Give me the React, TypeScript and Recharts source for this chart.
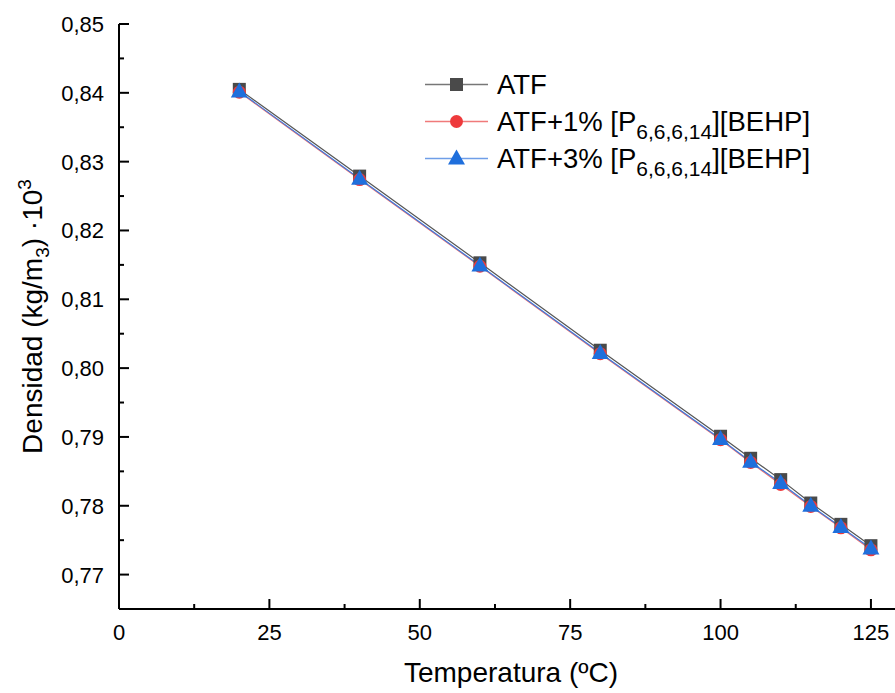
import { LineChart, Line, XAxis, YAxis, Label } from 'recharts';

const temps = [20, 40, 60, 80, 100, 105, 110, 115, 120, 125];
const atf = [0.8405, 0.8279, 0.8153, 0.8026, 0.7901, 0.7869, 0.7838, 0.7804, 0.7773, 0.7742];
const atf1 = [0.8401, 0.8274, 0.8148, 0.8021, 0.7896, 0.7863, 0.7831, 0.7799, 0.7768, 0.7736];
const atf3 = [0.8402, 0.8275, 0.8149, 0.8022, 0.7897, 0.7864, 0.7833, 0.78, 0.7769, 0.7738];

const xTicks = [0, 12.5, 25, 37.5, 50, 62.5, 75, 87.5, 100, 112.5, 125];
const yTicks = [0.77, 0.775, 0.78, 0.785, 0.79, 0.795, 0.8, 0.805, 0.81, 0.815, 0.82, 0.825, 0.83, 0.835, 0.84, 0.845, 0.85];

const data = temps.map((t, i) => ({ t, atf: atf[i], atf1: atf1[i], atf3: atf3[i] }));

const FONT = '"Liberation Sans", Arial, sans-serif';
const GRAY = '#4a4a4a';
const RED = '#ee3a3c';
const BLUE = '#1f6fdc';

const XTick = (props: any) => {
  const { x, y, payload } = props;
  const major = payload.value % 25 === 0;
  return (
    <g>
      <line x1={x} x2={x} y1={y} y2={y - (major ? 10 : 5)} stroke="#000" strokeWidth={2} />
      {major && (
        <text x={x} y={y + 31} textAnchor="middle" fontSize={22} fontFamily={FONT} fill="#000">
          {payload.value}
        </text>
      )}
    </g>
  );
};

const YTick = (props: any) => {
  const { x, y, payload } = props;
  const major = Math.round(payload.value * 1000) % 10 === 0;
  return (
    <g>
      <line x1={x} x2={x + (major ? 10 : 5)} y1={y} y2={y} stroke="#000" strokeWidth={2} />
      {major && (
        <text x={x - 15} y={y + 8} textAnchor="end" fontSize={22} fontFamily={FONT} fill="#000">
          {payload.value.toFixed(2).replace('.', ',')}
        </text>
      )}
    </g>
  );
};

const Square = (props: any) => {
  const { cx, cy, index } = props;
  return <rect key={index} x={cx - 6.5} y={cy - 6.5} width={13} height={13} fill={GRAY} />;
};

const Circle = (props: any) => {
  const { cx, cy, index } = props;
  return <circle key={index} cx={cx} cy={cy} r={6.5} fill={RED} />;
};

const Triangle = (props: any) => {
  const { cx, cy, index } = props;
  return (
    <path key={index} d={`M${cx},${cy - 9} L${cx + 8.5},${cy + 6} L${cx - 8.5},${cy + 6} Z`} fill={BLUE} />
  );
};

const Sub = ({ children }: { children: string }) => (
  <span style={{ fontSize: 21, position: 'relative', top: 8 }}>{children}</span>
);

const legendRows = [
  { label: <>ATF</>, line: '#777', marker: 'square' },
  { label: <>ATF+1% [P<Sub>6,6,6,14</Sub>][BEHP]</>, line: '#f07a7a', marker: 'circle' },
  { label: <>ATF+3% [P<Sub>6,6,6,14</Sub>][BEHP]</>, line: '#6f9ee8', marker: 'triangle' },
];

const ChartLegend = () => (
  <div style={{ position: 'absolute', left: 422, top: 66, fontFamily: FONT, fontSize: 27.5, color: '#000' }}>
    {legendRows.map((r, i) => (
      <div key={i} style={{ display: 'flex', alignItems: 'center', height: 37, whiteSpace: 'nowrap' }}>
        <svg width={66} height={37} style={{ marginRight: 9 }}>
          <line x1={3} x2={66} y1={18.5} y2={18.5} stroke={r.line} strokeWidth={1.5} />
          {r.marker === 'square' && <rect x={28} y={12} width={13} height={13} fill={GRAY} />}
          {r.marker === 'circle' && <circle cx={34.5} cy={18.5} r={6.5} fill={RED} />}
          {r.marker === 'triangle' && <path d="M34.5,9.5 L43,24.5 L26,24.5 Z" fill={BLUE} />}
        </svg>
        <span>{r.label}</span>
      </div>
    ))}
  </div>
);

const YTitle = (props: any) => {
  const { viewBox } = props;
  const cy = viewBox.y + viewBox.height / 2;
  return (
    <text
      x={42}
      y={cy}
      transform={`rotate(-90, 42, ${cy})`}
      textAnchor="middle"
      fontSize={28}
      fontFamily={FONT}
      fill="#000"
    >
      Densidad (kg/m
      <tspan fontSize={19} dy={7}>3</tspan>
      <tspan dy={-7}>) ·10</tspan>
      <tspan fontSize={19} dy={-11}>3</tspan>
    </text>
  );
};

const XTitle = (props: any) => {
  const { viewBox } = props;
  return (
    <text
      x={viewBox.x + viewBox.width / 2 + 4}
      y={682}
      textAnchor="middle"
      fontSize={28}
      fontFamily={FONT}
      fill="#000"
    >
      Temperatura (ºC)
    </text>
  );
};

export default function App() {
  return (
    <div style={{ position: 'absolute', left: 0, top: 0, width: 895, height: 693, background: '#fff' }}>
      <LineChart width={895} height={693} data={data} margin={{ top: 24, right: 0, bottom: 0, left: 0 }}>
        <XAxis
          dataKey="t"
          type="number"
          domain={[0, 129]}
          ticks={xTicks}
          interval={0}
          tickSize={0}
          tickMargin={0}
          tick={XTick}
          height={84}
          axisLine={{ stroke: '#000', strokeWidth: 2 }}
        >
          <Label content={XTitle} />
        </XAxis>
        <YAxis
          type="number"
          domain={[0.765, 0.85]}
          ticks={yTicks}
          interval={0}
          tickSize={0}
          tickMargin={0}
          tick={YTick}
          width={119}
          axisLine={{ stroke: '#000', strokeWidth: 2 }}
        >
          <Label content={YTitle} />
        </YAxis>
        <Line dataKey="atf" stroke="#555" strokeWidth={1.2} dot={Square} isAnimationActive={false} />
        <Line dataKey="atf1" stroke="#f07070" strokeWidth={1.2} dot={Circle} isAnimationActive={false} />
        <Line dataKey="atf3" stroke="#3b78dc" strokeWidth={1.2} dot={Triangle} isAnimationActive={false} />
      </LineChart>
      <ChartLegend />
    </div>
  );
}
